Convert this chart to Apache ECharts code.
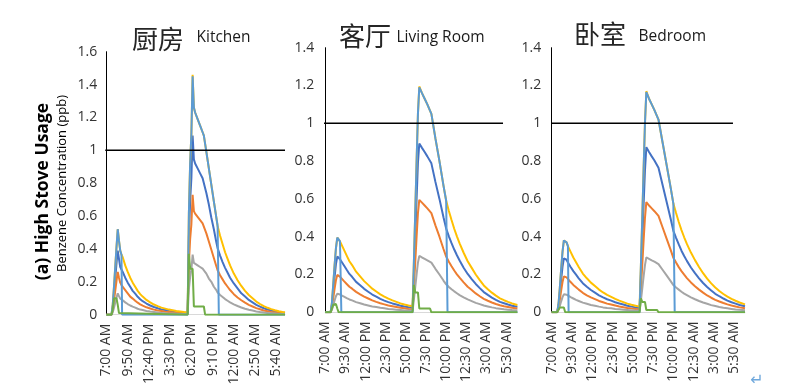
<!DOCTYPE html>
<html>
<head>
<meta charset="utf-8">
<script src="https://cdn.jsdelivr.net/npm/echarts/dist/echarts.min.js"></script>
<style>html,body{margin:0;padding:0;background:#fff}#c{width:804px;height:391px}</style>
</head>
<body>
<div id="c"></div>
<script>
// ---------- DATA ----------
const kitchenTickLabels = ['7:00 AM','9:50 AM','12:40 PM','3:30 PM','6:20 PM','9:10 PM','12:00 AM','2:50 AM','5:40 AM'];
const roomTickLabels = ['7:00 AM','9:30 AM','12:00 PM','2:30 PM','5:00 PM','7:30 PM','10:00 PM','12:30 AM','3:00 AM','5:30 AM'];
const threshold = 1;

// minutes after 7:00 AM
const kitchenTimes = [0,40,50,60,70,80,90,100,110,120,130,150,170,190,210,230,250,270,290,320,350,380,410,440,470,500,530,560,590,620,650,660,670,680,690,700,710,730,750,770,780,800,820,840,860,880,890,910,930,950,970,990,1020,1050,1080,1110,1140,1170,1200,1230,1260,1290,1320,1350,1380,1410,1430];
const kitchenBlue = [0,0,0.045,0.13,0.22,0.31,0.39,0.34,0.29,0.275,0.26,0.225,0.195,0.17,0.145,0.128,0.109,0.094,0.082,0.068,0.056,0.047,0.039,0.032,0.028,0.023,0.02,0.017,0.015,0.013,0.011,0.47,0.69,0.83,1.09,0.945,0.92,0.89,0.86,0.83,0.82,0.74,0.67,0.59,0.52,0.44,0.405,0.36,0.32,0.285,0.255,0.225,0.19,0.16,0.13,0.11,0.09,0.075,0.06,0.049,0.039,0.032,0.026,0.02,0.016,0.013,0.011];
const kitchenOrange = [0,0,0.03,0.085,0.145,0.205,0.26,0.225,0.195,0.18,0.175,0.15,0.13,0.11,0.098,0.085,0.073,0.063,0.055,0.045,0.038,0.031,0.026,0.022,0.018,0.016,0.013,0.012,0.01,0.009,0.008,0.31,0.46,0.55,0.73,0.63,0.615,0.595,0.575,0.555,0.545,0.495,0.445,0.395,0.345,0.295,0.27,0.24,0.215,0.19,0.17,0.15,0.125,0.105,0.088,0.073,0.06,0.05,0.04,0.033,0.026,0.021,0.017,0.014,0.011,0.009,0.008];
const kitchenGray = [0,0,0.015,0.043,0.073,0.103,0.13,0.113,0.098,0.091,0.088,0.075,0.065,0.056,0.049,0.043,0.036,0.031,0.028,0.023,0.019,0.016,0.013,0.011,0.009,0.008,0.007,0.006,0.005,0.004,0.004,0.155,0.23,0.275,0.365,0.315,0.31,0.3,0.29,0.28,0.27,0.25,0.22,0.2,0.17,0.15,0.135,0.12,0.108,0.095,0.085,0.075,0.063,0.053,0.044,0.036,0.03,0.025,0.02,0.016,0.013,0.011,0.009,0.007,0.005,0.004,0.004];
const kitchenGold = [0,0,0.06,0.17,0.29,0.41,0.52,0.45,0.39,0.365,0.35,0.30,0.26,0.225,0.195,0.17,0.145,0.125,0.11,0.09,0.075,0.062,0.052,0.043,0.037,0.031,0.027,0.023,0.02,0.017,0.015,0.62,0.92,1.10,1.46,1.26,1.23,1.19,1.15,1.11,1.09,0.99,0.89,0.79,0.69,0.59,0.54,0.48,0.43,0.38,0.34,0.30,0.25,0.21,0.175,0.145,0.12,0.10,0.08,0.065,0.052,0.042,0.034,0.027,0.021,0.017,0.015];
const kitchenLightBlue = [[0,0],[40,0],[50,0.06],[60,0.17],[70,0.29],[80,0.41],[90,0.52],[100,0.45],[110,0.39],[120,0.365],[125,0],[650,0],[660,0.62],[670,0.92],[680,1.10],[690,1.45],[700,1.26],[710,1.23],[730,1.19],[750,1.15],[770,1.11],[780,1.09],[800,0.99],[820,0.89],[840,0.79],[860,0.69],[880,0.59],[890,0.54],[900,0],[1430,0]];
const kitchenGreen = [[0,0],[40,0],[50,0.03],[60,0.10],[70,0.11],[80,0.10],[90,0.06],[100,0.01],[110,0],[650,0],[660,0.37],[670,0.28],[690,0.28],[700,0.05],[780,0.05],[790,0],[1430,0]];

const roomTimes = [0,40,50,60,70,80,90,100,110,120,140,160,180,200,230,260,290,320,350,380,410,440,470,500,530,560,590,620,650,660,670,680,690,700,720,740,760,790,820,850,880,900,920,940,960,980,1000,1030,1060,1090,1120,1150,1180,1210,1240,1270,1300,1330,1360,1390,1430];
const livingBlue = [0,0,0.038,0.113,0.188,0.255,0.296,0.293,0.281,0.274,0.248,0.225,0.203,0.188,0.161,0.143,0.124,0.109,0.094,0.083,0.071,0.062,0.054,0.047,0.041,0.035,0.031,0.027,0.024,0.2,0.4,0.6,0.79,0.893,0.87,0.848,0.825,0.788,0.69,0.6,0.503,0.443,0.402,0.366,0.332,0.302,0.274,0.236,0.203,0.176,0.15,0.128,0.107,0.092,0.078,0.066,0.055,0.048,0.041,0.035,0.029];
const livingOrange = [0,0,0.025,0.075,0.125,0.17,0.198,0.195,0.188,0.183,0.165,0.15,0.135,0.125,0.108,0.095,0.083,0.073,0.063,0.055,0.048,0.042,0.036,0.032,0.028,0.024,0.021,0.018,0.016,0.135,0.265,0.4,0.525,0.595,0.58,0.565,0.55,0.525,0.46,0.4,0.335,0.295,0.268,0.244,0.221,0.201,0.183,0.158,0.135,0.118,0.1,0.085,0.071,0.061,0.052,0.044,0.037,0.032,0.028,0.024,0.02];
const livingGray = [0,0,0.013,0.038,0.063,0.085,0.099,0.098,0.094,0.091,0.083,0.075,0.068,0.063,0.054,0.048,0.041,0.036,0.031,0.028,0.024,0.021,0.018,0.016,0.014,0.012,0.01,0.009,0.008,0.068,0.133,0.2,0.263,0.298,0.29,0.283,0.275,0.263,0.23,0.2,0.168,0.148,0.134,0.122,0.111,0.101,0.091,0.079,0.068,0.059,0.05,0.043,0.036,0.031,0.026,0.022,0.019,0.016,0.014,0.012,0.01];
const livingGold = [0,0,0.05,0.15,0.25,0.34,0.395,0.39,0.375,0.365,0.33,0.30,0.27,0.25,0.215,0.19,0.165,0.145,0.125,0.11,0.095,0.083,0.072,0.063,0.055,0.047,0.041,0.036,0.032,0.27,0.53,0.80,1.05,1.195,1.16,1.13,1.10,1.05,0.92,0.80,0.67,0.59,0.536,0.488,0.442,0.402,0.365,0.315,0.27,0.235,0.20,0.17,0.142,0.122,0.104,0.088,0.074,0.064,0.055,0.047,0.039];
const livingLightBlue = [[0,0],[40,0],[50,0.05],[60,0.15],[70,0.25],[80,0.34],[90,0.395],[100,0.39],[110,0.375],[120,0],[650,0],[660,0.27],[670,0.53],[680,0.80],[690,1.05],[700,1.19],[720,1.16],[740,1.13],[760,1.10],[790,1.05],[820,0.92],[850,0.80],[880,0.67],[900,0.59],[910,0],[1430,0]];
const livingGreen = [[0,0],[40,0],[50,0.01],[60,0.04],[80,0.044],[90,0.02],[100,0],[650,0],[660,0.145],[670,0.105],[690,0.105],[700,0.02],[780,0.02],[790,0],[1430,0]];

const bedroomBlue = [0,0,0.03,0.098,0.173,0.24,0.285,0.293,0.278,0.263,0.24,0.218,0.199,0.18,0.154,0.135,0.118,0.104,0.09,0.079,0.069,0.062,0.053,0.047,0.041,0.035,0.03,0.026,0.023,0.188,0.375,0.57,0.75,0.874,0.848,0.825,0.803,0.765,0.675,0.585,0.495,0.431,0.394,0.359,0.326,0.298,0.272,0.237,0.207,0.18,0.155,0.134,0.115,0.098,0.085,0.073,0.062,0.053,0.046,0.039,0.032];
const bedroomOrange = [0,0,0.02,0.065,0.115,0.16,0.19,0.195,0.185,0.175,0.16,0.145,0.133,0.12,0.103,0.09,0.079,0.07,0.06,0.053,0.046,0.041,0.036,0.031,0.027,0.023,0.02,0.018,0.015,0.125,0.25,0.38,0.5,0.583,0.565,0.55,0.535,0.51,0.45,0.39,0.33,0.288,0.263,0.239,0.218,0.199,0.181,0.158,0.138,0.12,0.104,0.089,0.077,0.066,0.057,0.049,0.042,0.036,0.031,0.026,0.021];
const bedroomGray = [0,0,0.01,0.033,0.058,0.08,0.095,0.098,0.093,0.088,0.08,0.073,0.066,0.06,0.051,0.045,0.039,0.035,0.03,0.026,0.023,0.021,0.018,0.016,0.014,0.012,0.01,0.009,0.008,0.063,0.125,0.19,0.25,0.291,0.283,0.275,0.268,0.255,0.225,0.195,0.165,0.144,0.131,0.12,0.109,0.099,0.091,0.079,0.069,0.06,0.052,0.045,0.038,0.033,0.028,0.024,0.021,0.018,0.015,0.013,0.011];
const bedroomGold = [0,0,0.04,0.13,0.23,0.32,0.38,0.39,0.37,0.35,0.32,0.29,0.265,0.24,0.205,0.18,0.157,0.139,0.12,0.105,0.092,0.082,0.071,0.062,0.054,0.046,0.04,0.035,0.03,0.25,0.50,0.76,1.0,1.17,1.13,1.10,1.07,1.02,0.90,0.78,0.66,0.575,0.525,0.478,0.435,0.397,0.362,0.316,0.276,0.24,0.207,0.178,0.153,0.131,0.113,0.097,0.083,0.071,0.061,0.052,0.042];
const bedroomLightBlue = [[0,0],[40,0],[50,0.04],[60,0.13],[70,0.23],[80,0.32],[90,0.38],[100,0.39],[110,0.37],[120,0.35],[125,0],[650,0],[660,0.25],[670,0.5],[680,0.76],[690,1.0],[700,1.165],[720,1.13],[740,1.10],[760,1.07],[790,1.02],[820,0.9],[850,0.78],[880,0.66],[900,0.575],[910,0],[1430,0]];
const bedroomGreen = [[0,0],[40,0],[50,0.005],[60,0.025],[90,0.025],[100,0],[650,0],[660,0.074],[670,0.055],[690,0.055],[700,0.012],[780,0.012],[790,0],[1430,0]];

// ---------- LAYOUT / STYLE ----------
const colors = {blue:'#4472C4', orange:'#ED7D31', gray:'#A5A5A5', gold:'#FFC000', lightBlue:'#5B9BD5', green:'#70AD47'};
const FONT = 'Open Sans';
const panels = [
  {zh:'厨房', en:'Kitchen', times:kitchenTimes, blue:kitchenBlue, orange:kitchenOrange, gray:kitchenGray, gold:kitchenGold, lightBlue:kitchenLightBlue, green:kitchenGreen,
   ticks:kitchenTickLabels, step:170, yMax:1.6, grid:{left:106.5, top:51.7, width:178.5, height:263}, offset:1.2, thr:[-10,1430],
   zhX:132, zhY:39, enX:196.5, enY:38},
  {zh:'客厅', en:'Living Room', times:roomTimes, blue:livingBlue, orange:livingOrange, gray:livingGray, gold:livingGold, lightBlue:livingLightBlue, green:livingGreen,
   ticks:roomTickLabels, step:150, yMax:1.4, grid:{left:325.2, top:47.7, width:192.2, height:264.6}, offset:2.9, thr:[-22,1323],
   zhX:339, zhY:36.5, enX:396.5, enY:38},
  {zh:'卧室', en:'Bedroom', times:roomTimes, blue:bedroomBlue, orange:bedroomOrange, gray:bedroomGray, gold:bedroomGold, lightBlue:bedroomLightBlue, green:bedroomGreen,
   ticks:roomTickLabels, step:150, yMax:1.4, grid:{left:551.7, top:47.7, width:193.3, height:264.6}, offset:2.4, thr:[0,1341],
   zhX:574, zhY:34, enX:638.5, enY:36.5}
];

const grids = [], xAxes = [], yAxes = [], series = [], graphics = [];
panels.forEach((p, i) => {
  grids.push(Object.assign({outerBoundsMode:'none', containLabel:false}, p.grid));
  xAxes.push({
    type:'value', gridIndex:i, min:0, max:1430, interval:p.step,
    axisLine:{show:true, lineStyle:{color:'#d9d9d9', width:1}},
    axisTick:{show:false}, splitLine:{show:false},
    axisLabel:{rotate:90, margin:9, fontSize:14, fontFamily:FONT, color:'#333',
      showMaxLabel:false, hideOverlap:false,
      formatter:(v) => { const k = v / p.step; return Number.isInteger(k) && p.ticks[k] ? p.ticks[k] : ''; }}
  });
  yAxes.push({
    type:'value', gridIndex:i, min:0, max:p.yMax, interval:0.2, offset:p.offset,
    axisLine:{show:true, lineStyle:{color:'#000', width:1}},
    axisTick:{show:false}, splitLine:{show:false},
    axisLabel:{fontSize:14, fontFamily:FONT, color:'#333', margin:8, hideOverlap:false}
  });
  const mk = (name, data, color) => ({
    name, type:'line', xAxisIndex:i, yAxisIndex:i, data, showSymbol:false, symbol:'none',
    lineStyle:{color, width:2}, itemStyle:{color}, animation:false, silent:true, z:2
  });
  const pair = (vals) => p.times.map((t, j) => [t, vals[j]]);
  series.push(mk('blue', pair(p.blue), colors.blue));
  series.push(mk('orange', pair(p.orange), colors.orange));
  series.push(mk('gray', pair(p.gray), colors.gray));
  series.push(mk('gold', pair(p.gold), colors.gold));
  series.push(mk('lightBlue', p.lightBlue, colors.lightBlue));
  series.push(mk('green', p.green, colors.green));
  const thr = mk('threshold', [[p.thr[0], threshold], [p.thr[1], threshold]], '#000');
  thr.clip = false; thr.lineStyle.width = 1.5; thr.z = 3;
  series.push(thr);

  graphics.push({type:'text', x:p.zhX, y:p.zhY, style:{text:p.zh, fontSize:26, fontFamily:'Noto Sans CJK SC', fill:'#262626', align:'left', verticalAlign:'middle'}});
  graphics.push({type:'text', x:p.enX, y:p.enY, style:{text:p.en, fontSize:15.5, fontFamily:FONT, fill:'#1a1a1a', align:'left', verticalAlign:'middle'}});
});

graphics.push({type:'text', x:43, y:191.5, rotation:Math.PI/2, style:{text:'(a) High Stove Usage', fontSize:17.5, fontWeight:'bold', fontFamily:FONT, fill:'#000', align:'center', verticalAlign:'middle'}});
graphics.push({type:'text', x:62, y:183.5, rotation:Math.PI/2, style:{text:'Benzene Concentration (ppb)', fontSize:13, fontFamily:FONT, fill:'#000', align:'center', verticalAlign:'middle'}});
graphics.push({type:'text', x:757, y:381, style:{text:'↵', fontSize:16, fontFamily:'DejaVu Sans', fill:'#6FA8DC', align:'center', verticalAlign:'middle'}});

const chart = echarts.init(document.getElementById('c'), null, {renderer:'canvas'});
chart.setOption({
  animation:false,
  backgroundColor:'#fff',
  grid:grids, xAxis:xAxes, yAxis:yAxes, series, graphic:graphics
});
</script>
</body>
</html>
